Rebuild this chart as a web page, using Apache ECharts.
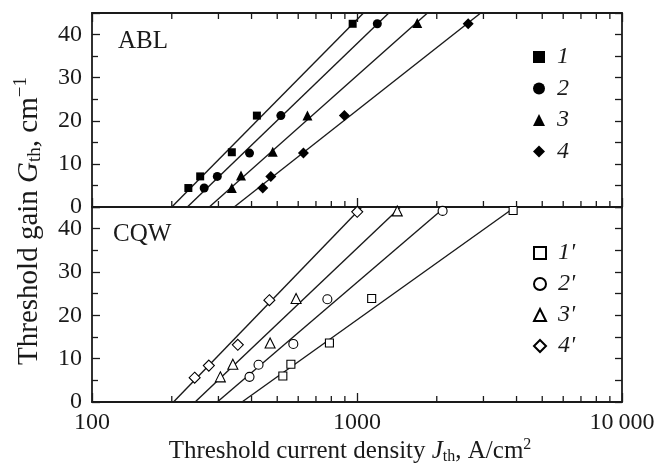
<!DOCTYPE html>
<html>
<head>
<meta charset="utf-8">
<script src="https://cdn.jsdelivr.net/npm/echarts@6/dist/echarts.min.js"></script>
<style>
html, body { margin: 0; padding: 0; background: #fff; }
#main { width: 670px; height: 469px; }
</style>
</head>
<body>
<div id="main"></div>
<script>
// ABL panel: threshold current density J (A/cm2) and gain G (cm-1)
var ablJ1 = [231, 256, 337, 419, 963];
var ablG1 = [4.4, 7.1, 12.7, 21.2, 42.5];
var ablJ2 = [265, 297, 393, 516, 1193];
var ablG2 = [4.4, 7.1, 12.5, 21.2, 42.5];
var ablJ3 = [337, 365, 481, 650, 1688];
var ablG3 = [4.4, 7.3, 12.8, 21.2, 42.7];
var ablJ4 = [441, 473, 628, 896, 2628];
var ablG4 = [4.4, 7.1, 12.5, 21.2, 42.5];

// CQW panel
var cqwJ1 = [525, 563, 787, 1136, 3883];
var cqwG1 = [6.0, 8.7, 13.6, 23.9, 44.2];
var cqwJ2 = [393, 425, 575, 773, 2104];
var cqwG2 = [5.8, 8.6, 13.4, 23.7, 44.1];
var cqwJ3 = [305, 340, 470, 589, 1419];
var cqwG3 = [5.8, 8.7, 13.6, 23.9, 44.1];
var cqwJ4 = [244, 276, 355, 467, 1002];
var cqwG4 = [5.6, 8.4, 13.2, 23.5, 43.9];

// fitted lines: J where G = 0 and J where G = 45
var ablFitStart = [200, 229, 277, 344];
var ablFitEnd = [1058, 1318, 1845, 2930];
var cqwFitStart = [368, 297, 245, 203];
var cqwFitEnd = [3950, 2150, 1460, 1043];

var ablNames = ['1', '2', '3', '4'];
var cqwNames = ["1'", "2'", "3'", "4'"];
var markerSymbols = ['rect', 'circle', 'triangle', 'diamond'];
var symbolSizes = [8, 9, 10, 11];

var xTickLabels = {100: '100', 1000: '1000', 10000: '10\u2009000'};
var xMinorTicks = [200, 300, 400, 500, 600, 700, 800, 900, 2000, 3000, 4000, 5000, 6000, 7000, 8000, 9000];
var gMax = 45;

var FONT = 'Liberation Serif';
var INK = '#1a1a1a';

var pairs = function(xs, ys) {
    var out = [];
    for (var i = 0; i < xs.length; i++) {
        out.push([xs[i], ys[i]]);
    }
    return out;
};

var chart = echarts.init(document.getElementById('main'));

var xAxisBase = function(gridIndex, position, showLabel) {
    return {
        type: 'log', logBase: 10, min: 100, max: 10000,
        gridIndex: gridIndex, position: position,
        axisLine: {show: true, onZero: false, lineStyle: {color: INK, width: 1.8}},
        axisTick: {show: true, inside: true, length: 9, lineStyle: {color: INK, width: 1.3}},
        axisLabel: {
            show: showLabel, margin: 9, color: INK, fontFamily: FONT, fontSize: 24,
            formatter: function(v) { return xTickLabels[Math.round(v)] || ''; }
        },
        splitLine: {show: false}
    };
};

var yAxisLeft = function(gridIndex) {
    return {
        type: 'value', min: 0, max: gMax, interval: 10, gridIndex: gridIndex, position: 'left',
        axisLine: {show: true, onZero: false, lineStyle: {color: INK, width: 1.8}},
        axisTick: {show: true, inside: true, length: 8, lineStyle: {color: INK, width: 1.3}},
        minorTick: {show: true, splitNumber: 2, length: 6, lineStyle: {color: INK, width: 1.3}},
        axisLabel: {margin: 10, color: INK, fontFamily: FONT, fontSize: 24, showMaxLabel: false},
        splitLine: {show: false}
    };
};

var yAxisRight = function(gridIndex) {
    return {
        type: 'value', min: 0, max: gMax, interval: 5, gridIndex: gridIndex, position: 'right',
        axisLine: {show: true, onZero: false, lineStyle: {color: INK, width: 1.8}},
        axisTick: {show: true, inside: true, length: 7, lineStyle: {color: INK, width: 1.3}},
        axisLabel: {show: false},
        splitLine: {show: false}
    };
};

var series = [];
var ablJ = [ablJ1, ablJ2, ablJ3, ablJ4];
var ablG = [ablG1, ablG2, ablG3, ablG4];
var cqwJ = [cqwJ1, cqwJ2, cqwJ3, cqwJ4];
var cqwG = [cqwG1, cqwG2, cqwG3, cqwG4];

for (var k = 0; k < 4; k++) {
    series.push({
        type: 'line', xAxisIndex: 0, yAxisIndex: 0, silent: true, symbol: 'none', z: 1,
        lineStyle: {color: INK, width: 1.4},
        data: [[ablFitStart[k], 0], [ablFitEnd[k], gMax]]
    });
    series.push({
        type: 'line', xAxisIndex: 2, yAxisIndex: 2, silent: true, symbol: 'none', z: 1,
        lineStyle: {color: INK, width: 1.4},
        data: [[cqwFitStart[k], 0], [cqwFitEnd[k], gMax]]
    });
}
for (var k = 0; k < 4; k++) {
    series.push({
        name: ablNames[k], type: 'scatter', xAxisIndex: 0, yAxisIndex: 0, z: 3,
        symbol: markerSymbols[k], symbolSize: symbolSizes[k],
        itemStyle: {color: '#000', opacity: 1},
        data: pairs(ablJ[k], ablG[k])
    });
    series.push({
        name: cqwNames[k], type: 'scatter', xAxisIndex: 2, yAxisIndex: 2, z: 3,
        symbol: markerSymbols[k], symbolSize: symbolSizes[k],
        itemStyle: {color: '#fff', borderColor: '#000', borderWidth: 1.1, opacity: 1},
        data: pairs(cqwJ[k], cqwG[k])
    });
}

var legendBase = function(names, top, gap) {
    return {
        data: names, orient: 'vertical', left: 528, top: top,
        itemWidth: 12, itemHeight: 12, itemGap: gap, selectedMode: false,
        textStyle: {
            fontFamily: FONT, fontStyle: 'italic', fontSize: 24, color: INK,
            lineHeight: 22, padding: [0, 0, 0, 7]
        }
    };
};

chart.setOption({
    animation: false,
    backgroundColor: '#fff',
    grid: [
        {left: 92, right: 48, top: 13, height: 194},
        {left: 92, right: 48, top: 207, height: 195}
    ],
    xAxis: [
        xAxisBase(0, 'bottom', false),
        xAxisBase(0, 'top', false),
        xAxisBase(1, 'bottom', true)
    ],
    yAxis: [yAxisLeft(0), yAxisRight(0), yAxisLeft(1), yAxisRight(1)],
    legend: [legendBase(ablNames, 40, 7.5), legendBase(cqwNames, 236, 7)],
    series: series
});

// minor ticks of the log axes (2..9 in each decade), placed through the grids' scales
var graphics = [];
xMinorTicks.forEach(function(v) {
    var pTop = chart.convertToPixel({gridIndex: 0}, [v, gMax]);
    var pMid = chart.convertToPixel({gridIndex: 0}, [v, 0]);
    var pBot = chart.convertToPixel({gridIndex: 1}, [v, 0]);
    [[pTop, 6], [pMid, -6], [pBot, -6]].forEach(function(t) {
        graphics.push({
            type: 'line', silent: true, z: 10,
            shape: {x1: t[0][0], y1: t[0][1], x2: t[0][0], y2: t[0][1] + t[1]},
            style: {stroke: INK, lineWidth: 1.3}
        });
    });
});

var richFor = function(size, small) {
    return {
        i: {fontFamily: FONT, fontSize: size, fontStyle: 'italic', fill: INK},
        sub: {fontFamily: FONT, fontSize: small, fill: INK, padding: [Math.round(small * 0.7), 0, 0, 0]},
        sup: {fontFamily: FONT, fontSize: small, fill: INK, padding: [0, 0, Math.round(small * 0.8), 0]}
    };
};

graphics.push({
    type: 'text', left: 118, top: 29, silent: true,
    style: {text: 'ABL', fontFamily: FONT, fontSize: 25, fill: INK}
});
graphics.push({
    type: 'text', left: 113, top: 222, silent: true,
    style: {text: 'CQW', fontFamily: FONT, fontSize: 25, fill: INK}
});
graphics.push({
    type: 'text', x: 350, y: 451, silent: true,
    style: {
        text: 'Threshold current density {i|J}{sub|th}, A/cm{sup|2}',
        fontFamily: FONT, fontSize: 25, fill: INK,
        align: 'center', verticalAlign: 'middle', rich: richFor(25, 16)
    }
});
graphics.push({
    type: 'text', x: 29, y: 221, rotation: Math.PI / 2, silent: true,
    style: {
        text: 'Threshold gain {i|G}{sub|th}, cm{sup|\u22121}',
        fontFamily: FONT, fontSize: 29, fill: INK,
        align: 'center', verticalAlign: 'middle', rich: richFor(29, 19)
    }
});

chart.setOption({graphic: graphics});
</script>
</body>
</html>
